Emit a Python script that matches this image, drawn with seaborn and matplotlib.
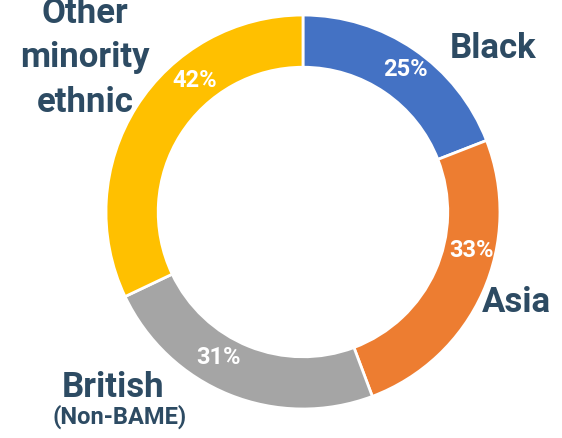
import matplotlib
matplotlib.use("Agg")
import matplotlib.pyplot as plt
import seaborn as sns

# Datos del gráfico
grupos = ['Black', 'Asia', 'British', 'Other minority ethnic']
porcentajes = [25, 33, 31, 42]
etiquetas = ['Black', 'Asia', 'British', 'Other\nminority\nethnic']
colores = ['#4472C4', '#ED7D31', '#A5A5A5', '#FFC000']

# posiciones de textos (coordenadas del eje, radio del anillo = 1)
pos_pct = [(0.518, 0.721), (0.858, -0.193), (-0.431, -0.741), (-0.548, 0.670)]
pos_nombre = [(0.964, 0.832), (1.086, -0.457), (-0.964, -0.89), (-1.107, 0.782)]

sns.set_theme(style="white")
plt.rcParams['font.family'] = ['Roboto', 'DejaVu Sans']

fig = plt.figure(figsize=(5.62, 4.38), dpi=100)
ax = fig.add_axes([0.1886, 0.0662, 0.701, 0.8995])

ax.pie(porcentajes, colors=sns.color_palette(colores), startangle=90, counterclock=False,
       radius=1, wedgeprops=dict(width=0.265, edgecolor='white', linewidth=2))

for (x, y), p in zip(pos_pct, porcentajes):
    ax.text(x, y, f'{p}%', ha='center', va='center', color='white',
            fontsize=17, fontweight='bold')

color_txt = '#2D4B63'
for (x, y), nombre in zip(pos_nombre, etiquetas):
    ax.text(x, y, nombre, ha='center', va='center', color=color_txt,
            fontsize=25, fontweight='bold', linespacing=1.45)
ax.text(-0.929, -1.04, '(Non-BAME)', ha='center', va='center', color=color_txt,
        fontsize=17, fontweight='bold')

ax.set_xlim(-1, 1)
ax.set_ylim(-1, 1)
ax.axis('off')

fig.savefig('out.png', dpi=100)
